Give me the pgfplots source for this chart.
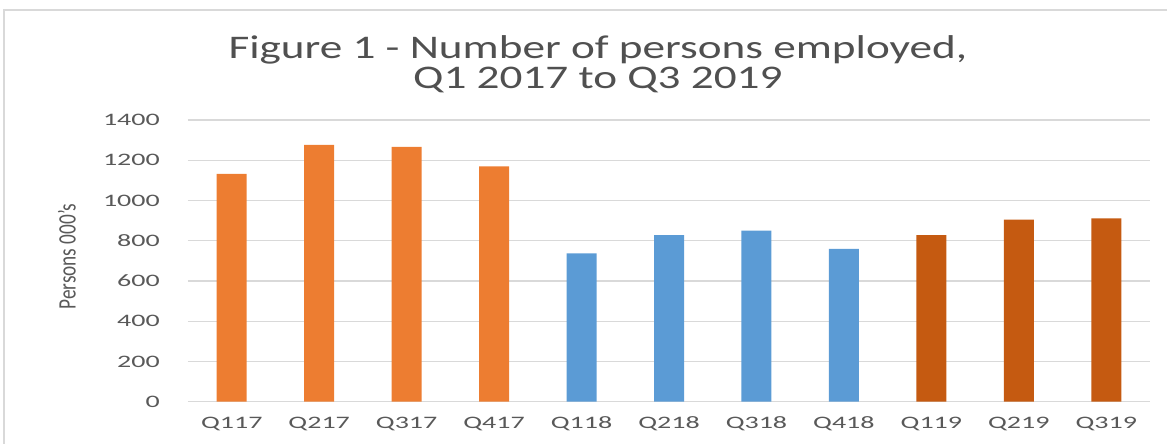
\documentclass[border=0pt]{standalone}
\usepackage{pgfplots}
\pgfplotsset{compat=1.18}
\usepackage{fontspec}
\setmainfont{Carlito}
\usepackage{graphicx}
\definecolor{orA}{HTML}{ED7D31}
\definecolor{blB}{HTML}{5B9BD5}
\definecolor{orC}{HTML}{C55A11}
\definecolor{gridg}{HTML}{D9D9D9}
\definecolor{txt}{HTML}{595959}
\newcommand\sx[1]{\scalebox{1.6}[1]{#1}}
\newcommand\st[1]{\scalebox{1.37}[1]{#1}}
\begin{document}
\begin{tikzpicture}
\path[use as bounding box] (-188pt,-42.3pt) rectangle (979pt,401.7pt);
\draw[gridg, line width=1.2pt] (-184pt,-42.3pt) -- (-184pt,391.7pt) -- (979pt,391.7pt);
\begin{axis}[
  at={(0,0)}, anchor=south west,
  scale only axis, width=962pt, height=281.7pt,
  xmin=-0.5, xmax=10.5, ymin=0, ymax=1400,
  ytick={0,200,400,600,800,1000,1200,1400},
  yticklabels={\sx{0},\sx{200},\sx{400},\sx{600},\sx{800},\sx{1000},\sx{1200},\sx{1400}},
  xtick={0,1,2,3,4,5,6,7,8,9,10},
  xticklabels={\sx{Q117},\sx{Q217},\sx{Q317},\sx{Q417},\sx{Q118},\sx{Q218},\sx{Q318},\sx{Q418},\sx{Q119},\sx{Q219},\sx{Q319}},
  major tick length=0pt,
  axis line style={draw=none},
  ymajorgrids, grid style={gridg, line width=1.2pt},
  yticklabel style={font=\fontsize{17.5}{20}\selectfont, text=txt, anchor=east, inner sep=0pt, xshift=-28pt},
  xticklabel style={font=\fontsize{17.5}{20}\selectfont, text=txt, anchor=north, inner sep=0pt, yshift=-15pt},
  ylabel={\scalebox{1}[1.3]{Persons 000's}},
  ylabel style={font=\fontsize{19.3}{22}\selectfont, text=txt, at={(axis description cs:-0.1258,0.515)}, anchor=center, inner sep=0pt},
  ybar, bar width=30pt,
  clip=false,
]
\addplot[ybar, bar shift=0pt, fill=orA, draw=none] coordinates {(0,1132) (1,1276) (2,1266) (3,1170)};
\addplot[ybar, bar shift=0pt, fill=blB, draw=none] coordinates {(4,737) (5,828) (6,850) (7,760)};
\addplot[ybar, bar shift=0pt, fill=orC, draw=none] coordinates {(8,828) (9,905) (10,911)};
\node[anchor=north, inner sep=0pt, align=center, text=txt!90!black, font=\fontsize{33}{30}\selectfont] at (axis description cs:0.426,1.302) {\st{Figure 1 - Number of persons employed,}\\\st{Q1 2017 to Q3 2019}};
\end{axis}
\end{tikzpicture}
\end{document}
